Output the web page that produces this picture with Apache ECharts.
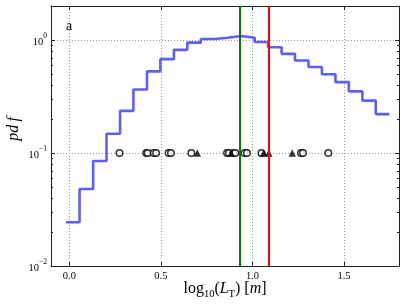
<!DOCTYPE html>
<html>
<head>
<meta charset="utf-8">
<script src="https://cdn.jsdelivr.net/npm/echarts@6/dist/echarts.min.js"></script>
<style>html,body{margin:0;padding:0;background:#fff}#c{width:407px;height:305px}</style>
</head>
<body>
<div id="c"></div>
<script>
// ---- data ----
const binEdges = [-0.018, 0.056, 0.13, 0.203, 0.277, 0.35, 0.424, 0.497, 0.571, 0.644, 0.718, 0.791, 0.865, 0.938, 1.012, 1.085, 1.159, 1.232, 1.306, 1.379, 1.453, 1.526, 1.6, 1.673, 1.747];
const pdfValues = [0.0244, 0.048, 0.085, 0.148, 0.236, 0.365, 0.528, 0.677, 0.818, 0.948, 1.02, 1.047, 1.084, 1.047, 0.96, 0.863, 0.754, 0.659, 0.577, 0.498, 0.424, 0.351, 0.291, 0.221];
const circleX = [0.274, 0.42, 0.428, 0.461, 0.474, 0.542, 0.555, 0.666, 0.861, 0.872, 0.897, 0.906, 0.957, 0.970, 1.049, 1.265, 1.276, 1.414];
const triangleX = [0.699, 0.883, 1.061, 1.089, 1.217];
const markerY = 0.1;
const greenLineX = 0.928;
const redLineX = 1.089;
const xTickValues = [0, 0.5, 1.0, 1.5];
const yMinorTicks = [0.02, 0.03, 0.04, 0.05, 0.06, 0.07, 0.08, 0.09, 0.2, 0.3, 0.4, 0.5, 0.6, 0.7, 0.8, 0.9];
const panelLabel = 'a';

// ---- chart ----
const serif = '"Liberation Serif", "DejaVu Serif", serif';
const frame = '#222';
const gridColor = '#999';
const chart = echarts.init(document.getElementById('c'), null, {renderer: 'canvas'});

const stepData = binEdges.map((e, i) => [e, pdfValues[Math.min(i, pdfValues.length - 1)]]);

function isXTick(v) { return xTickValues.some(t => Math.abs(t - v) < 1e-6); }
function yLabel(v) {
  const e = Math.log10(v);
  if (Math.abs(e - Math.round(e)) > 1e-6) return '';
  const r = Math.round(e);
  return '{b|10}{s|' + (r < 0 ? '\u2212' + (-r) : r) + '}';
}

const xCommon = {
  type: 'value', min: -0.1, max: 1.8, splitNumber: 4,
  axisLine: {show: true, onZero: false, lineStyle: {color: frame, width: 1}},
  axisTick: {show: true, inside: true, length: 4, lineStyle: {color: frame}},
};
const yCommon = {
  type: 'log', logBase: 10, min: 0.01, max: 2,
  axisLine: {show: true, onZero: false, lineStyle: {color: frame, width: 1}},
  axisTick: {show: true, inside: true, length: 4, lineStyle: {color: frame}},
};

chart.setOption({
  animation: false,
  grid: {left: 51, right: 8, top: 6, bottom: 39, containLabel: false, outerBoundsMode: 'none'},
  xAxis: [
    Object.assign({}, xCommon, {
      position: 'bottom',
      name: '{n|log}{s|10}{n|(}{i|L}{s|T}{n|) [}{i|m}{n|]}',
      nameLocation: 'middle',
      nameGap: 15,
      nameMoveOverlap: false,
      nameTextStyle: {
        rich: {
          n: {fontFamily: serif, fontSize: 16, color: '#000', lineHeight: 18, verticalAlign: 'top'},
          i: {fontFamily: serif, fontStyle: 'italic', fontSize: 16, color: '#000', lineHeight: 18, verticalAlign: 'top'},
          s: {fontFamily: serif, fontSize: 10.5, color: '#000', lineHeight: 10, padding: [8, 0, 0, 0], verticalAlign: 'top'}
        }
      },
      axisLabel: {
        show: true, margin: 5, fontFamily: serif, fontSize: 10.5, color: '#000',
        showMinLabel: false, showMaxLabel: false,
        formatter: v => isXTick(v) ? v.toFixed(1) : ''
      },
      splitLine: {show: true, lineStyle: {color: gridColor, type: [1, 2], width: 1}}
    }),
    Object.assign({}, xCommon, {
      position: 'top',
      axisLabel: {show: false},
      splitLine: {show: false}
    })
  ],
  yAxis: [
    Object.assign({}, yCommon, {
      position: 'left',
      axisLabel: {
        show: true, margin: 4, color: '#000',
        formatter: yLabel,
        rich: {
          b: {fontFamily: serif, fontSize: 10.5, lineHeight: 16, verticalAlign: 'bottom', color: '#000'},
          s: {fontFamily: serif, fontSize: 7.5, lineHeight: 8, verticalAlign: 'top', color: '#000'}
        }
      },
      splitLine: {show: true, lineStyle: {color: gridColor, type: [1, 2], width: 1}}
    }),
    Object.assign({}, yCommon, {
      position: 'right',
      axisLabel: {show: false},
      splitLine: {show: false}
    })
  ],
  graphic: [
    {type: 'text', left: 66, top: 19, style: {text: panelLabel, font: '14px ' + serif, fill: '#000'}},
    {type: 'text', x: 14, y: 129, rotation: Math.PI / 2,
      style: {text: 'pd\u2009f', font: 'italic 16px ' + serif, fill: '#000', align: 'center', verticalAlign: 'middle'}}
  ],
  series: [
    {
      type: 'line', xAxisIndex: 0, yAxisIndex: 0, step: 'end', data: stepData,
      showSymbol: false, symbol: 'none', z: 2,
      lineStyle: {color: 'rgba(40,40,255,0.75)', width: 2.6}
    },
    {
      type: 'scatter', xAxisIndex: 0, yAxisIndex: 0, z: 3,
      data: circleX.map(x => [x, markerY]),
      symbol: 'circle', symbolSize: 6.5,
      itemStyle: {color: '#fff', borderColor: '#000', borderWidth: 1.5}
    },
    {
      type: 'scatter', xAxisIndex: 0, yAxisIndex: 0, z: 3,
      data: triangleX.map(x => [x, markerY]),
      symbol: 'triangle', symbolSize: 7.5,
      itemStyle: {color: '#000'}
    },
    {
      type: 'custom', xAxisIndex: 0, yAxisIndex: 0, z: 4, silent: true,
      data: yMinorTicks.map(v => [0, v]),
      renderItem: function (params, api) {
        const y = Math.round(api.coord([0, api.value(1)])[1]) + 0.5;
        const cs = params.coordSys;
        return {
          type: 'group', children: [
            {type: 'line', shape: {x1: cs.x, y1: y, x2: cs.x + 2, y2: y}, style: {stroke: frame, lineWidth: 1}},
            {type: 'line', shape: {x1: cs.x + cs.width - 2, y1: y, x2: cs.x + cs.width, y2: y}, style: {stroke: frame, lineWidth: 1}}
          ]
        };
      }
    },
    {
      type: 'line', xAxisIndex: 0, yAxisIndex: 0, data: [], z: 5,
      markLine: {
        silent: true, symbol: 'none', label: {show: false},
        data: [
          {xAxis: greenLineX, lineStyle: {color: '#008000', width: 2, type: 'solid'}},
          {xAxis: redLineX, lineStyle: {color: '#ff0000', width: 2, type: 'solid'}}
        ]
      }
    }
  ]
});
</script>
</body>
</html>
